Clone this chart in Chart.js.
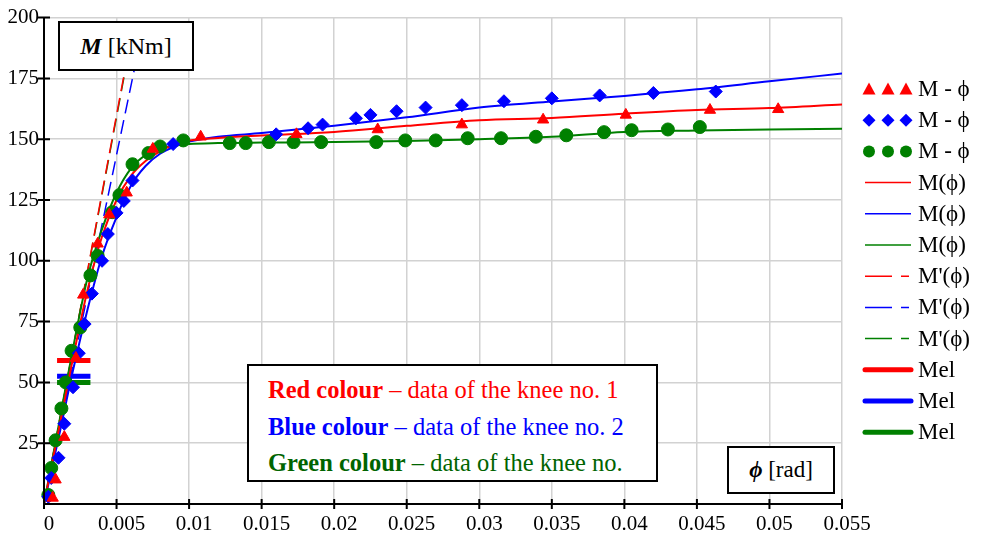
<!DOCTYPE html>
<html>
<head>
<meta charset="utf-8">
<script src="https://cdn.jsdelivr.net/npm/chart.js@4/dist/chart.umd.min.js"></script>
<style>
  body { margin: 0; background: #fff; }
  #wrap { position: relative; width: 983px; height: 538px; font-family: 'Liberation Serif', 'Times New Roman', serif; }
  .box { position: absolute; background: #fff; border: 2px solid #000; box-sizing: border-box; }
  #mBox { left: 58px; top: 21px; width: 136px; height: 50px; font-size: 24px; text-align: center; line-height: 46px; }
  #phiBox { left: 727px; top: 446px; width: 108px; height: 48px; font-size: 23px; text-align: center; line-height: 44px; }
  #noteBox { left: 247px; top: 364px; width: 411px; height: 118px; font-size: 24.5px; padding: 9px 0 0 19px; }
  #noteBox div { height: 36.5px; line-height: 30px; white-space: nowrap; }
</style>
</head>
<body>
<div id="wrap">
  <canvas id="mphi" width="983" height="538"></canvas>
  <div class="box" id="mBox"><b><i>M</i></b> [kNm]</div>
  <div class="box" id="phiBox"><b><i>ϕ</i></b> [rad]</div>
  <div class="box" id="noteBox">
    <div style="color:#ff0000"><b>Red colour</b> – data of the knee no. 1</div>
    <div style="color:#0000ff"><b>Blue colour</b> – data of the knee no. 2</div>
    <div style="color:#006400"><b>Green colour</b> – data of the knee no.</div>
  </div>
</div>
<script>
// tick labels
var phiTicks = [0, 0.005, 0.01, 0.015, 0.02, 0.025, 0.03, 0.035, 0.04, 0.045, 0.05, 0.055];
var mTicks = [25, 50, 75, 100, 125, 150, 175, 200];

// measured points, knee no. 1 (red), no. 2 (blue), no. 3 (green)
var redPts = [[0.0006, 2.5], [0.0008, 10], [0.0014, 27.5], [0.0022, 60], [0.0027, 86], [0.0037, 107],
  [0.0045, 119], [0.0057, 128], [0.0075, 146], [0.0108, 151], [0.0174, 152], [0.0230, 154],
  [0.0288, 156], [0.0344, 158], [0.0401, 160], [0.0459, 162], [0.0506, 162.3]];
var bluePts = [[0.0003, 3], [0.0005, 10.7], [0.001, 19], [0.0014, 33], [0.002, 48], [0.0024, 62],
  [0.0028, 74], [0.0033, 86.5], [0.004, 100], [0.0044, 111], [0.005, 119.7], [0.0055, 124.6],
  [0.0061, 133], [0.0089, 148], [0.0160, 152], [0.0182, 154.5], [0.0192, 156], [0.0215, 158.6],
  [0.0225, 160], [0.0243, 161.5], [0.0263, 163], [0.0288, 164], [0.0317, 165.6], [0.035, 166.8],
  [0.0383, 168], [0.042, 169], [0.0463, 169.6]];
var greenPts = [[0.0003, 3.7], [0.0005, 14.8], [0.0008, 26.2], [0.0012, 39.3], [0.0015, 50],
  [0.0019, 63], [0.0025, 72.6], [0.0032, 94], [0.0037, 102], [0.0047, 120], [0.0052, 127],
  [0.0061, 139.7], [0.0072, 144.3], [0.008, 147], [0.0096, 149.5], [0.0128, 148.4], [0.0139, 148.4],
  [0.0155, 148.8], [0.0172, 148.8], [0.0191, 148.8], [0.0229, 148.8], [0.0249, 149.5], [0.027, 149.5],
  [0.0292, 150.4], [0.0315, 150.4], [0.0339, 151], [0.036, 151.6], [0.0386, 152.9], [0.0405, 153.7],
  [0.043, 154], [0.0452, 155]];

// fitted curves M(phi)
var redCurve = [[0, 0], [0.001, 30], [0.002, 60], [0.003, 88], [0.004, 110], [0.005, 125], [0.006, 135],
  [0.007, 141], [0.008, 145], [0.009, 148], [0.01, 149.5], [0.012, 150.5], [0.015, 151.5], [0.02, 153],
  [0.025, 155.5], [0.03, 157.8], [0.035, 158.7], [0.04, 160.5], [0.045, 162], [0.05, 162.8], [0.055, 164.3]];
var blueCurve = [[0, 0], [0.001, 27], [0.002, 55], [0.003, 80], [0.004, 102], [0.005, 118], [0.006, 131],
  [0.007, 139], [0.008, 144], [0.009, 147], [0.01, 149], [0.012, 151], [0.015, 152.5], [0.02, 155.5],
  [0.025, 159], [0.03, 163], [0.035, 165.5], [0.04, 167.8], [0.045, 170.5], [0.05, 173.8], [0.055, 177]];
var greenCurve = [[0, 0], [0.001, 32], [0.002, 64], [0.003, 93], [0.004, 113], [0.005, 128], [0.006, 138],
  [0.007, 143.5], [0.008, 146], [0.009, 147.3], [0.01, 148], [0.012, 148.4], [0.015, 148.6], [0.02, 148.8],
  [0.025, 149.3], [0.03, 150], [0.035, 151], [0.04, 153], [0.045, 153.6], [0.05, 154], [0.055, 154.3]];

// initial stiffness lines M'(phi)
var redTangent = [[0, 0], [0.00594, 190]];
var blueTangent = [[0, 0], [0.00662, 190]];
var greenTangent = [[0, 0], [0.00597, 190]];

// elastic limit Mel
var redMel = [[0.0009, 59], [0.0032, 59]];
var blueMel = [[0.0009, 52.5], [0.0032, 52.5]];
var greenMel = [[0.0009, 50], [0.0032, 50]];

var RED = '#ff0000', BLUE = '#0000ff', GREEN = '#008000';
var serif = "'Liberation Serif', 'Times New Roman', serif";

function xy(arr) {
    return arr.map(function (p) { return { x: p[0], y: p[1] }; });
}

function markers(pts, color, style, r) {
    return { data: xy(pts), showLine: false, pointStyle: style, pointRadius: r,
        backgroundColor: color, borderColor: color, borderWidth: 1, clip: false };
}

function line(pts, color, width, dash) {
    return { data: xy(pts), showLine: true, pointRadius: 0, borderColor: color,
        borderWidth: width, borderDash: dash || [], cubicInterpolationMode: 'monotone', fill: false };
}

// legend entries on the right
var legendItems = [
    { kind: 'mark', style: 'triangle', color: RED, text: 'M - ϕ' },
    { kind: 'mark', style: 'rectRot', color: BLUE, text: 'M - ϕ' },
    { kind: 'mark', style: 'circle', color: GREEN, text: 'M - ϕ' },
    { kind: 'line', width: 1.5, color: RED, text: 'M(ϕ)' },
    { kind: 'line', width: 1.5, color: BLUE, text: 'M(ϕ)' },
    { kind: 'line', width: 1.5, color: GREEN, text: 'M(ϕ)' },
    { kind: 'dash', width: 1.5, color: RED, text: "M'(ϕ)" },
    { kind: 'dash', width: 1.5, color: BLUE, text: "M'(ϕ)" },
    { kind: 'dash', width: 1.5, color: GREEN, text: "M'(ϕ)" },
    { kind: 'line', width: 5, color: RED, text: 'Mel' },
    { kind: 'line', width: 5, color: BLUE, text: 'Mel' },
    { kind: 'line', width: 5, color: GREEN, text: 'Mel' }
];

// black axes with ticks crossing the axis line, plus the legend on the right
var axesAndLegend = {
    id: 'axesAndLegend',
    afterDraw: function (chart) {
        var c = chart.ctx, a = chart.chartArea;
        var xs = chart.scales.x, ys = chart.scales.y;
        c.save();
        c.strokeStyle = '#000';
        c.lineWidth = 2;
        c.beginPath();
        c.moveTo(a.left, ys.getPixelForValue(200));
        c.lineTo(a.left, a.bottom);
        c.lineTo(xs.getPixelForValue(0.055), a.bottom);
        phiTicks.forEach(function (v) {
            var px = xs.getPixelForValue(v);
            c.moveTo(px, a.bottom - 5);
            c.lineTo(px, a.bottom + 5);
        });
        mTicks.forEach(function (v) {
            var py = ys.getPixelForValue(v);
            c.moveTo(a.left - 6, py);
            c.lineTo(a.left + 6, py);
        });
        c.stroke();

        c.font = '23px ' + serif;
        c.textBaseline = 'middle';
        legendItems.forEach(function (it, i) {
            var y = 89 + i * 31.2;
            c.strokeStyle = it.color;
            c.fillStyle = it.color;
            if (it.kind === 'mark') {
                [869, 888, 906].forEach(function (x) {
                    c.beginPath();
                    if (it.style === 'triangle') {
                        c.moveTo(x, y - 6.5); c.lineTo(x + 6.5, y + 5.5); c.lineTo(x - 6.5, y + 5.5);
                    } else if (it.style === 'rectRot') {
                        c.moveTo(x, y - 6.5); c.lineTo(x + 6.5, y); c.lineTo(x, y + 6.5); c.lineTo(x - 6.5, y);
                    } else {
                        c.arc(x, y, 6, 0, Math.PI * 2);
                    }
                    c.closePath();
                    c.fill();
                });
            } else if (it.kind === 'line') {
                c.lineWidth = it.width;
                c.lineCap = it.width > 3 ? 'round' : 'butt';
                c.beginPath();
                c.moveTo(865, y); c.lineTo(911, y);
                c.stroke();
            } else {
                c.lineWidth = it.width;
                c.lineCap = 'butt';
                c.beginPath();
                c.moveTo(865, y); c.lineTo(892, y);
                c.moveTo(901, y); c.lineTo(909, y);
                c.stroke();
            }
            c.fillStyle = '#000';
            c.fillText(it.text, 918, y + 1);
        });
        c.restore();
    }
};

var ctx = document.getElementById('mphi').getContext('2d');

var chart = new Chart(ctx, {
    type: 'scatter',
    data: {
        datasets: [
            markers(redPts, RED, 'triangle', 6.5),
            markers(bluePts, BLUE, 'rectRot', 6.5),
            markers(greenPts, GREEN, 'circle', 6.5),
            line(redCurve, RED, 2),
            line(blueCurve, BLUE, 2),
            line(greenCurve, GREEN, 2),
            line(redTangent, RED, 1.5, [14, 7]),
            line(blueTangent, BLUE, 1.5, [14, 7]),
            line(greenTangent, GREEN, 1.5, [14, 7]),
            line(redMel, RED, 5),
            line(blueMel, BLUE, 5),
            line(greenMel, GREEN, 5)
        ]
    },
    options: {
        responsive: false,
        animation: false,
        devicePixelRatio: 1,
        layout: { padding: { top: 15, right: 141, left: 0, bottom: 0 } },
        plugins: { legend: { display: false }, tooltip: { enabled: false } },
        scales: {
            x: {
                type: 'linear', min: 0, max: 0.055,
                afterFit: function (s) { s.height = 34; },
                afterBuildTicks: function (s) { s.ticks = phiTicks.map(function (v) { return { value: v }; }); },
                border: { display: false },
                grid: { color: '#d2d2d2', lineWidth: 1.5, drawTicks: false },
                ticks: {
                    padding: 8, labelOffset: 5, color: '#000', maxRotation: 0, autoSkip: false,
                    font: { family: serif, size: 21 },
                    callback: function (v) { return String(Number(v.toFixed(3))); }
                }
            },
            y: {
                type: 'linear', min: 0, max: 200,
                afterFit: function (s) { s.width = 44; },
                afterBuildTicks: function (s) { s.ticks = [0].concat(mTicks).map(function (v) { return { value: v }; }); },
                border: { display: false },
                grid: { color: '#d2d2d2', lineWidth: 1.5, drawTicks: false },
                ticks: {
                    padding: 5, color: '#000', autoSkip: false,
                    font: { family: serif, size: 21 },
                    callback: function (v) { return v === 0 ? '' : String(v); }
                }
            }
        }
    },
    plugins: [axesAndLegend]
});
</script>
</body>
</html>
